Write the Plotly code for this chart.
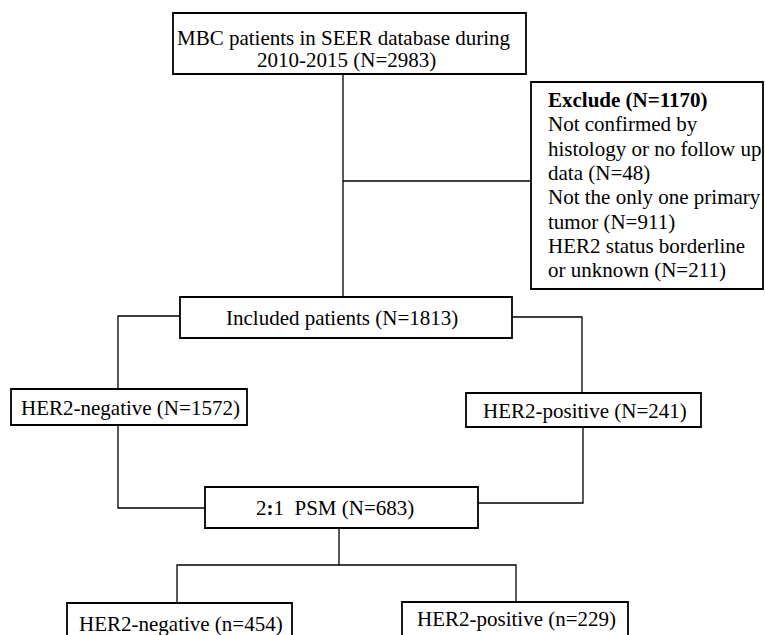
import plotly.graph_objects as go

# ---- content ----
top_lines = ["MBC patients in SEER database during", "2010-2015 (N=2983)"]
exclude_lines = ["<b>Exclude (N=1170)</b>", "Not confirmed by", "histology or no follow up",
                 "data (N=48)", "Not the only one primary", "tumor (N=911)",
                 "HER2 status borderline", "or unknown (N=211)"]
included_text = "Included patients (N=1813)"
neg1_text = "HER2-negative (N=1572)"
pos1_text = "HER2-positive (N=241)"
psm_text = "2<b>:</b>1  PSM (N=683)"
neg2_text = "HER2-negative (n=454)"
pos2_text = "HER2-positive (n=229)"

# ---- layout geometry (pixels, y downward) ----
W, H = 765, 635
boxes = {
    "top": (173, 526, 13, 74),
    "exclude": (531, 763, 82, 289),
    "included": (180, 512, 297, 338),
    "neg1": (11, 247, 389, 425),
    "pos1": (466, 701, 393, 427),
    "psm": (205, 478, 487, 528),
    "neg2": (67, 292, 603, 650),
    "pos2": (402, 628, 602, 650),
}
connectors = [
    [(343, 74), (343, 297)],
    [(343, 181), (531, 181)],
    [(180, 316), (118, 316), (118, 389)],
    [(512, 317), (582, 317), (582, 393)],
    [(118, 425), (118, 508), (205, 508)],
    [(583, 427), (583, 503), (478, 503)],
    [(339, 528), (339, 565)],
    [(177, 603), (177, 565), (516, 565), (516, 602)],
]

FONT = dict(family="Liberation Serif, Times New Roman, serif", size=21, color="black")

fig = go.Figure()

for pts in connectors:
    fig.add_trace(go.Scatter(x=[p[0] for p in pts], y=[p[1] for p in pts], mode="lines",
                             line=dict(color="black", width=1.3), hoverinfo="skip",
                             showlegend=False))

shapes = []
for (x0, x1, y0, y1) in boxes.values():
    shapes.append(dict(type="rect", xref="x", yref="y", x0=x0, x1=x1, y0=y0, y1=y1,
                       line=dict(color="black", width=1.8), fillcolor="white", layer="above"))

ann = []
def add_text(t, x, y, anchor="center"):
    ann.append(dict(text=t, x=x, y=y, xref="x", yref="y", showarrow=False,
                    xanchor=anchor, yanchor="middle", font=FONT))

add_text(top_lines[0], 344, 38)
add_text(top_lines[1], 346, 60)
for i, t in enumerate(exclude_lines):
    add_text(t, 546, 100 + 24.3 * i, "left")
add_text(included_text, 342, 318)
add_text(neg1_text, 130, 408)
add_text(pos1_text, 585, 411)
add_text(psm_text, 335, 508)
add_text(neg2_text, 181, 624)
add_text(pos2_text, 516, 619)

fig.update_layout(
    width=W, height=H, margin=dict(l=0, r=0, t=0, b=0),
    paper_bgcolor="white", plot_bgcolor="white",
    xaxis=dict(range=[0, W], visible=False, fixedrange=True),
    yaxis=dict(range=[H, 0], visible=False, fixedrange=True),
    shapes=shapes, annotations=ann, showlegend=False,
)

fig.write_html("out.html", config={"displayModeBar": False},
               post_script="document.body.style.margin='0';document.body.style.overflow='hidden';")
